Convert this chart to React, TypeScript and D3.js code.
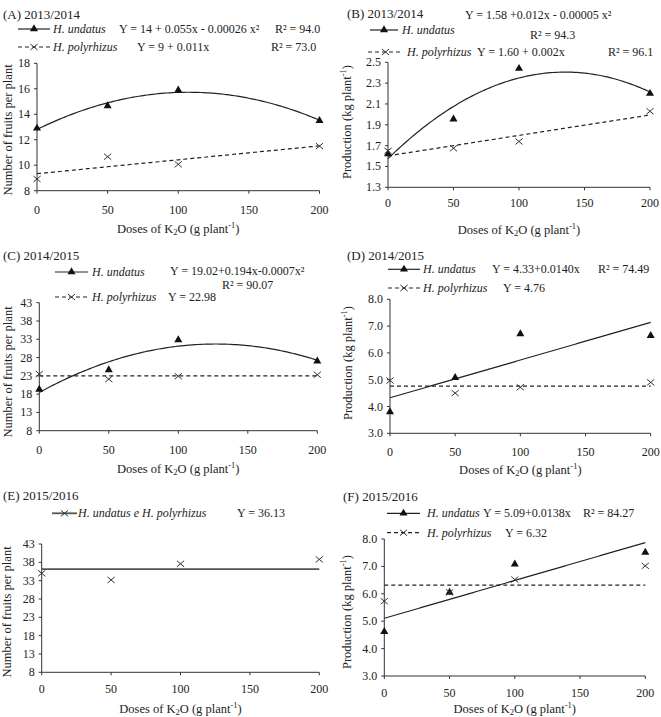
import React from 'react';
import * as d3 from 'd3';

// K2O doses (g per plant) applied in every season
const doses = [0, 50, 100, 200];
const xTicks = [0, 50, 100, 150, 200];

// (A) fruits per plant, 2013/2014
const fruitsUndatus1314 = [12.9, 14.65, 15.9, 13.5];
const fruitsPolyrhizus1314 = [8.92, 10.67, 10.07, 11.5];
// (B) production, 2013/2014
const prodUndatus1314 = [1.62, 1.955, 2.44, 2.2];
const prodPolyrhizus1314 = [1.65, 1.675, 1.74, 2.03];
// (C) fruits per plant, 2014/2015
const fruitsUndatus1415 = [19.3, 24.6, 32.8, 27.0];
const fruitsPolyrhizus1415 = [23.5, 22.1, 22.9, 23.3];
const fruitsPolyrhizusMean1415 = 22.98;
// (D) production, 2014/2015
const prodUndatus1415 = [3.8, 5.08, 6.71, 6.64];
const prodPolyrhizus1415 = [4.97, 4.5, 4.72, 4.9];
const prodPolyrhizusMean1415 = 4.76;
// (E) fruits per plant, 2015/2016 (both species together)
const fruitsBoth1516 = [35.0, 33.2, 37.6, 38.8];
const fruitsBothMean1516 = 36.13;
// (F) production, 2015/2016
const prodUndatus1516 = [4.62, 6.05, 7.08, 7.51];
const prodPolyrhizus1516 = [5.73, 6.05, 6.52, 7.02];
const prodPolyrhizusMean1516 = 6.32;

const fruitTicks = [8, 13, 18, 23, 28, 33, 38, 43];
const fruitTicksA = [8, 10, 12, 14, 16, 18];
const prodTicksB = [1.3, 1.5, 1.7, 1.9, 2.1, 2.3, 2.5];
const prodTicks = [3, 4, 5, 6, 7, 8];

const FONT = '"Liberation Serif", "Times New Roman", Times, serif';
const INK = '#222';
const TICK_FS = 12;
const LEG_FS = 12;
const AXIS_FS = 12.5;
const TITLE_FS = 13;

// least squares polynomial fit, returns [c0, c1, ...]
function polyFit(xs: number[], ys: number[], degree: number) {
  const n = degree + 1;
  const m = Array.from({ length: n }, (_, i) => {
    const row = Array.from({ length: n }, (_, j) => d3.sum(xs, (x) => Math.pow(x, i + j)));
    row.push(d3.sum(xs.map((x, k) => Math.pow(x, i) * ys[k])));
    return row;
  });
  for (let c = 0; c < n; c++) {
    let piv = c;
    for (let r = c + 1; r < n; r++) if (Math.abs(m[r][c]) > Math.abs(m[piv][c])) piv = r;
    [m[c], m[piv]] = [m[piv], m[c]];
    for (let r = 0; r < n; r++) {
      if (r === c) continue;
      const f = m[r][c] / m[c][c];
      for (let k = c; k <= n; k++) m[r][k] -= f * m[c][k];
    }
  }
  return m.map((row, i) => row[n] / row[i]);
}

const triPath = d3.symbol(d3.symbolTriangle, 28)() as string;
const crossPath = 'M-3.6,-3L3.6,3M-3.6,3L3.6,-3';

function Marker({ kind, x, y }: { kind: string; x: number; y: number }) {
  if (kind === 'tri') return <path d={triPath} transform={`translate(${x},${y})`} fill="#111" />;
  return <path d={crossPath} transform={`translate(${x},${y})`} fill="none" stroke="#333" strokeWidth={1} />;
}

type Series = { values: number[]; marker: string; fit: number | 'lin' | 'quad'; dashed?: boolean; color?: string; width?: number };
type LegendRow = { y: number; x1: number; x2: number; marker: string; dashed?: boolean; color?: string; width?: number };
type Txt = { x: number; y: number; t: React.ReactNode; italic?: boolean; size?: number };

type PanelCfg = {
  left: number; right: number; top: number; bottom: number;
  yDomain: [number, number]; yTicks: number[]; yFmt: (v: number) => string;
  tickLabelY: number; axisTitleY: number; yLabelX: number; yLabelY: number;
  yLabel: React.ReactNode;
  series: Series[]; legend: LegendRow[]; texts: Txt[];
};

const kgLabel = (
  <>Production (kg plant<tspan dy={-4} fontSize={8.5}>-1</tspan><tspan dy={4}>)</tspan></>
);
const fruitLabel = 'Number of fruits per plant';
const doseTitle = (
  <>Doses of K<tspan dy={3} fontSize={8.5}>2</tspan><tspan dy={-3}>O (g plant</tspan><tspan dy={-4} fontSize={8.5}>-1</tspan><tspan dy={4}>)</tspan></>
);

function Panel({ p }: { p: PanelCfg }) {
  const x = d3.scaleLinear().domain([0, 200]).range([p.left, p.right]);
  const y = d3.scaleLinear().domain(p.yDomain).range([p.bottom, p.top]);
  const grid = d3.range(0, 200.001, 2);

  return (
    <g style={{ fontFamily: FONT }}>
      {/* fitted lines */}
      {p.series.map((s, i) => {
        let f: (v: number) => number;
        if (typeof s.fit === 'number') {
          const c = s.fit;
          f = () => c;
        } else {
          const coef = polyFit(doses, s.values, s.fit === 'quad' ? 2 : 1);
          f = (v) => coef.reduce((acc, c, k) => acc + c * Math.pow(v, k), 0);
        }
        const line = d3.line<number>().x((d) => x(d)).y((d) => y(f(d)));
        return (
          <path key={'f' + i} d={line(grid) as string} fill="none"
            stroke={s.color || INK} strokeWidth={s.width || 1.2}
            strokeDasharray={s.dashed ? '4,3' : undefined} />
        );
      })}

      {/* axes */}
      <line x1={p.left} x2={p.left} y1={p.top} y2={p.bottom} stroke="#333" />
      <line x1={p.left} x2={p.right} y1={p.bottom} y2={p.bottom} stroke="#333" />
      {p.yTicks.map((t) => (
        <g key={'y' + t}>
          <line x1={p.left - 3} x2={p.left} y1={y(t)} y2={y(t)} stroke="#333" />
          <text x={p.left - 7} y={y(t)} textAnchor="end" dominantBaseline="central" fontSize={TICK_FS} fill={INK}>
            {p.yFmt(t)}
          </text>
        </g>
      ))}
      {xTicks.map((t) => (
        <g key={'x' + t}>
          <line x1={x(t)} x2={x(t)} y1={p.bottom} y2={p.bottom + 3} stroke="#333" />
          <text x={x(t)} y={p.tickLabelY} textAnchor="middle" dominantBaseline="central" fontSize={TICK_FS} fill={INK}>
            {t}
          </text>
        </g>
      ))}
      <text x={(p.left + p.right) / 2} y={p.axisTitleY} textAnchor="middle" dominantBaseline="central" fontSize={AXIS_FS} fill={INK}>
        {doseTitle}
      </text>
      <text transform={`translate(${p.yLabelX},${p.yLabelY}) rotate(-90)`} textAnchor="middle" dominantBaseline="central" fontSize={AXIS_FS} fill={INK}>
        {p.yLabel}
      </text>

      {/* observed means */}
      {p.series.map((s, i) =>
        s.values.map((v, k) => <Marker key={`m${i}-${k}`} kind={s.marker} x={x(doses[k])} y={y(v)} />)
      )}

      {/* legend */}
      {p.legend.map((r, i) => (
        <g key={'l' + i}>
          <line x1={r.x1} x2={r.x2} y1={r.y} y2={r.y} stroke={r.color || INK} strokeWidth={r.width || 1.2}
            strokeDasharray={r.dashed ? '4,3' : undefined} />
          <Marker kind={r.marker} x={(r.x1 + r.x2) / 2} y={r.y} />
        </g>
      ))}
      {p.texts.map((t, i) => (
        <text key={'t' + i} x={t.x} y={t.y} dominantBaseline="central" fontSize={t.size || LEG_FS}
          fontStyle={t.italic ? 'italic' : 'normal'} fill={INK}>
          {t.t}
        </text>
      ))}
    </g>
  );
}

const fmt0 = (v: number) => String(v);
const fmt1 = d3.format('.1f');

const panels: PanelCfg[] = [
  {
    left: 37, right: 319.5, top: 63.3, bottom: 190.7,
    yDomain: [8, 18], yTicks: fruitTicksA, yFmt: fmt0,
    tickLabelY: 210, axisTitleY: 229, yLabelX: 8, yLabelY: 130, yLabel: fruitLabel,
    series: [
      { values: fruitsUndatus1314, marker: 'tri', fit: 'quad' },
      { values: fruitsPolyrhizus1314, marker: 'x', fit: 'lin', dashed: true },
    ],
    legend: [
      { y: 29, x1: 18, x2: 50, marker: 'tri' },
      { y: 47, x1: 18, x2: 50, marker: 'x', dashed: true },
    ],
    texts: [
      { x: 3, y: 14, t: '(A) 2013/2014', size: TITLE_FS },
      { x: 53, y: 29, t: 'H. undatus', italic: true },
      { x: 119, y: 29, t: 'Y = 14 + 0.055x - 0.00026 x²' },
      { x: 275, y: 29, t: 'R² = 94.0' },
      { x: 53, y: 47, t: 'H. polyrhizus', italic: true },
      { x: 137, y: 47, t: 'Y =  9 + 0.011x' },
      { x: 271, y: 47, t: 'R² = 73.0' },
    ],
  },
  {
    left: 388, right: 650, top: 62.3, bottom: 187.3,
    yDomain: [1.3, 2.5], yTicks: prodTicksB, yFmt: fmt1,
    tickLabelY: 203, axisTitleY: 230, yLabelX: 347, yLabelY: 122, yLabel: kgLabel,
    series: [
      { values: prodUndatus1314, marker: 'tri', fit: 'quad' },
      { values: prodPolyrhizus1314, marker: 'x', fit: 'lin', dashed: true },
    ],
    legend: [
      { y: 30, x1: 370, x2: 398, marker: 'tri' },
      { y: 52, x1: 368, x2: 403, marker: 'x', dashed: true },
    ],
    texts: [
      { x: 347, y: 13, t: '(B) 2013/2014', size: TITLE_FS },
      { x: 402, y: 30, t: 'H. undatus', italic: true },
      { x: 465, y: 15, t: 'Y = 1.58 +0.012x - 0.00005 x²' },
      { x: 530, y: 35, t: 'R² = 94.3' },
      { x: 407, y: 52, t: 'H. polyrhizus', italic: true },
      { x: 477, y: 52, t: 'Y =  1.60 + 0.002x' },
      { x: 608, y: 52, t: 'R² = 96.1' },
    ],
  },
  {
    left: 39.3, right: 317.3, top: 302.7, bottom: 430.7,
    yDomain: [8, 43], yTicks: fruitTicks, yFmt: fmt0,
    tickLabelY: 450, axisTitleY: 469, yLabelX: 8, yLabelY: 372, yLabel: fruitLabel,
    series: [
      { values: fruitsUndatus1415, marker: 'tri', fit: 'quad' },
      { values: fruitsPolyrhizus1415, marker: 'x', fit: fruitsPolyrhizusMean1415, dashed: true },
    ],
    legend: [
      { y: 272, x1: 55, x2: 88, marker: 'tri' },
      { y: 297, x1: 55, x2: 88, marker: 'x', dashed: true },
    ],
    texts: [
      { x: 3, y: 255, t: '(C) 2014/2015', size: TITLE_FS },
      { x: 92, y: 272, t: 'H. undatus', italic: true },
      { x: 170, y: 271, t: 'Y = 19.02+0.194x-0.0007x²' },
      { x: 222, y: 284.5, t: 'R² = 90.07' },
      { x: 92, y: 297, t: 'H. polyrhizus', italic: true },
      { x: 168, y: 297, t: `Y = ${fruitsPolyrhizusMean1415}` },
    ],
  },
  {
    left: 390, right: 650.7, top: 299.3, bottom: 433.3,
    yDomain: [3, 8], yTicks: prodTicks, yFmt: fmt1,
    tickLabelY: 451.7, axisTitleY: 470, yLabelX: 348, yLabelY: 363, yLabel: kgLabel,
    series: [
      { values: prodUndatus1415, marker: 'tri', fit: 'lin' },
      { values: prodPolyrhizus1415, marker: 'x', fit: prodPolyrhizusMean1415, dashed: true },
    ],
    legend: [
      { y: 269.3, x1: 388, x2: 420, marker: 'tri' },
      { y: 288, x1: 388, x2: 420, marker: 'x', dashed: true },
    ],
    texts: [
      { x: 347, y: 255, t: '(D) 2014/2015', size: TITLE_FS },
      { x: 423, y: 269.3, t: 'H. undatus', italic: true },
      { x: 492, y: 269.3, t: 'Y = 4.33+0.0140x' },
      { x: 598, y: 269.3, t: 'R² = 74.49' },
      { x: 423, y: 288, t: 'H. polyrhizus', italic: true },
      { x: 503, y: 288, t: `Y = ${prodPolyrhizusMean1415}` },
    ],
  },
  {
    left: 41.7, right: 319.3, top: 544, bottom: 672.3,
    yDomain: [8, 43], yTicks: fruitTicks, yFmt: fmt0,
    tickLabelY: 689.3, axisTitleY: 708.5, yLabelX: 7, yLabelY: 612, yLabel: fruitLabel,
    series: [
      { values: fruitsBoth1516, marker: 'x', fit: fruitsBothMean1516, color: '#555', width: 1.8 },
    ],
    legend: [
      { y: 513.3, x1: 52, x2: 77, marker: 'x', color: '#555', width: 1.8 },
    ],
    texts: [
      { x: 3, y: 495, t: '(E) 2015/2016', size: TITLE_FS },
      { x: 78, y: 513.3, t: 'H. undatus e H. polyrhizus', italic: true },
      { x: 237, y: 513.3, t: `Y = ${fruitsBothMean1516}` },
    ],
  },
  {
    left: 384.3, right: 645.3, top: 539, bottom: 676,
    yDomain: [3, 8], yTicks: prodTicks, yFmt: fmt1,
    tickLabelY: 693.3, axisTitleY: 708.5, yLabelX: 347, yLabelY: 612, yLabel: kgLabel,
    series: [
      { values: prodUndatus1516, marker: 'tri', fit: 'lin' },
      { values: prodPolyrhizus1516, marker: 'x', fit: prodPolyrhizusMean1516, dashed: true },
    ],
    legend: [
      { y: 513.3, x1: 387, x2: 420, marker: 'tri' },
      { y: 532.7, x1: 387, x2: 420, marker: 'x', dashed: true },
    ],
    texts: [
      { x: 343, y: 496, t: '(F) 2015/2016', size: TITLE_FS },
      { x: 427, y: 513.3, t: 'H. undatus', italic: true },
      { x: 483, y: 513.3, t: 'Y = 5.09+0.0138x' },
      { x: 583, y: 513.3, t: 'R² = 84.27' },
      { x: 427, y: 532.7, t: 'H. polyrhizus', italic: true },
      { x: 505, y: 532.7, t: `Y = ${prodPolyrhizusMean1516}` },
    ],
  },
];

export default function App() {
  return (
    <svg width={661} height={717} style={{ position: 'absolute', left: 0, top: 0, background: '#fff' }}>
      {panels.map((p, i) => (
        <Panel key={i} p={p} />
      ))}
    </svg>
  );
}
